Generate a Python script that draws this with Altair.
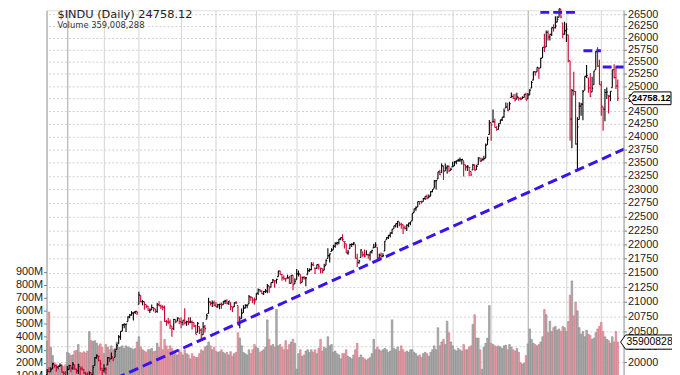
import altair as alt
import pandas as pd

# ---------------- data ----------------
holidays = ["2016-12-26", "2017-01-02", "2017-01-16", "2017-02-20", "2017-04-14",
            "2017-05-29", "2017-07-04", "2017-09-04", "2017-11-23", "2017-12-25",
            "2018-01-01", "2018-01-15", "2018-02-19"]
first_day, last_day = "2016-12-15", "2018-03-14"
prior_close = 19792.53

close = [
    19852, 19843, 19883, 19975, 19942, 19918, 19934, 19946, 19833, 19819, 19763,
    19882, 19943, 19900, 19964, 19887, 19855, 19954, 19892, 19886, 19826, 19804, 19732, 19827, 19799, 19913, 20069, 20101, 20094, 19971, 19864,
    19890, 19884, 20071, 20052, 20090, 20054, 20172, 20269, 20412, 20504, 20611, 20619, 20624, 20743, 20775, 20810, 20821, 20837, 20812,
    21115, 21002, 21005, 20954, 20924, 20855, 20858, 20902, 20881, 20837, 20950, 20934, 20914, 20905, 20668, 20661, 20656, 20596, 20550, 20701, 20659, 20728, 20663,
    20650, 20689, 20648, 20662, 20656, 20658, 20651, 20591, 20453, 20636, 20523, 20404, 20578, 20548, 20763, 20996, 20975, 20981, 20941,
    20913, 20949, 20957, 20951, 21007, 21013, 20975, 21012, 20919, 20897, 20982, 20980, 20607, 20663, 20805, 20895, 20938, 20938, 21083, 21080, 21029, 21009,
    21144, 21206, 21184, 21136, 21174, 21182, 21272, 21236, 21328, 21374, 21360, 21384, 21529, 21468, 21411, 21397, 21395, 21409, 21311, 21454, 21287, 21350,
    21479, 21479, 21320, 21414, 21409, 21409, 21532, 21553, 21638, 21630, 21575, 21641, 21611, 21580, 21513, 21613, 21711, 21797, 21830, 21891,
    21964, 22016, 22026, 22092, 22118, 22085, 22049, 21844, 21858, 21993, 21998, 22025, 21750, 21675, 21703, 21899, 21812, 21783, 21814, 21808, 21865, 21892, 21948,
    21988, 21753, 21807, 21785, 21798, 22057, 22118, 22158, 22203, 22268, 22331, 22370, 22412, 22359, 22349, 22296, 22284, 22340, 22381, 22405,
    22557, 22641, 22661, 22775, 22773, 22761, 22831, 22872, 22841, 22871, 22957, 22997, 23158, 23163, 23329, 23274, 23441, 23330, 23401, 23434, 23349, 23377,
    23435, 23517, 23539, 23549, 23557, 23564, 23462, 23422, 23440, 23409, 23272, 23458, 23358, 23431, 23591, 23526, 23558, 23580, 23836, 23940, 24272,
    24231, 24290, 24180, 24140, 24211, 24329, 24386, 24504, 24585, 24509, 24651, 24792, 24754, 24726, 24782, 24754, 24746, 24774, 24838, 24719,
    24824, 24922, 25075, 25295, 25283, 25385, 25369, 25574, 25803, 25792, 26116, 26017, 26072, 26214, 26211, 26252, 26392, 26617, 26439, 26077, 26149,
    26186, 25521, 24346, 24913, 24893, 23860, 24191, 24601, 24640, 24893, 25200, 25219, 24965, 24798, 24963, 25310, 25710, 25410, 25029,
    24608, 24538, 24875, 24884, 24801, 24896, 25336, 25179, 25007, 24758.12,
]
high = [
    19888, 19917, 19917, 19987, 19960, 19949, 19934, 19980, 19964, 19853, 19853,
    19938, 19956, 19943, 19999, 19957, 19890, 19974, 19929, 19929, 19885, 19843, 19834, 19850, 19833, 19950, 20082, 20126, 20096, 20028, 19900,
    19966, 19914, 20081, 20082, 20155, 20069, 20207, 20298, 20441, 20504, 20620, 20639, 20624, 20757, 20793, 20840, 20821, 20844, 20839,
    21169, 21112, 21033, 21002, 20953, 20930, 20891, 20953, 20911, 20880, 20977, 21008, 20954, 20941, 20938, 20694, 20727, 20702, 20588, 20714, 20701, 20735, 20722,
    20734, 20689, 20888, 20681, 20734, 20739, 20684, 20651, 20611, 20658, 20584, 20553, 20658, 20607, 20795, 21070, 21006, 21022, 21021,
    20994, 20966, 20967, 20988, 21007, 21034, 21043, 21012, 20989, 20915, 20992, 21012, 20937, 20754, 20886, 20941, 20956, 20959, 21113, 21090, 21073, 21071,
    21144, 21225, 21213, 21190, 21183, 21218, 21305, 21271, 21329, 21391, 21362, 21394, 21535, 21534, 21475, 21453, 21405, 21465, 21445, 21459, 21454, 21404,
    21562, 21537, 21471, 21434, 21441, 21420, 21581, 21574, 21682, 21682, 21580, 21641, 21654, 21580, 21573, 21654, 21733, 21929, 21836, 21929,
    21990, 22036, 22044, 22093, 22119, 22179, 22049, 22008, 21900, 22009, 22020, 22037, 22000, 21831, 21724, 21910, 21865, 21906, 21895, 21830, 21866, 21902, 22011,
    22034, 21946, 21838, 21852, 21842, 22057, 22124, 22164, 22209, 22271, 22332, 22374, 22420, 22400, 22387, 22353, 22336, 22361, 22386, 22405,
    22557, 22641, 22685, 22776, 22774, 22788, 22839, 22872, 22905, 22905, 22965, 22998, 23168, 23163, 23329, 23368, 23485, 23443, 23483, 23452, 23449, 23406,
    23517, 23529, 23541, 23575, 23602, 23573, 23542, 23462, 23454, 23420, 23334, 23474, 23466, 23462, 23605, 23597, 23595, 23634, 23870, 24000, 24327,
    24272, 24534, 24350, 24208, 24263, 24330, 24387, 24552, 24672, 24668, 24690, 24876, 24838, 24850, 24871, 24784, 24778, 24800, 24841, 24871,
    24864, 24941, 25106, 25299, 25312, 25386, 25370, 25584, 25804, 26086, 26154, 26153, 26072, 26215, 26285, 26458, 26458, 26617, 26609, 26312, 26339,
    26306, 26062, 25520, 24946, 25294, 24903, 24382, 24681, 24668, 24924, 25200, 25432, 25174, 25267, 25191, 25317, 25723, 25800, 25544,
    25107, 24587, 24946, 24976, 24819, 24899, 25336, 25449, 25402, 25138,
]
low = [
    19745, 19833, 19842, 19890, 19909, 19844, 19883, 19912, 19832, 19775, 19719,
    19760, 19881, 19834, 19875, 19871, 19815, 19807, 19767, 19861, 19805, 19760, 19706, 19731, 19732, 19790, 19945, 20054, 20010, 19863, 19751,
    19832, 19799, 19954, 20000, 20049, 20011, 20076, 20205, 20299, 20364, 20503, 20555, 20493, 20665, 20722, 20765, 20682, 20793, 20775,
    20957, 20990, 20940, 20866, 20891, 20846, 20811, 20860, 20835, 20810, 20813, 20925, 20879, 20858, 20663, 20598, 20621, 20541, 20413, 20527, 20637, 20670, 20627,
    20553, 20600, 20618, 20596, 20608, 20636, 20535, 20574, 20453, 20486, 20458, 20379, 20446, 20482, 20704, 20801, 20938, 20913, 20920,
    20910, 20900, 20873, 20882, 20951, 20962, 20955, 20944, 20854, 20826, 20913, 20960, 20606, 20553, 20715, 20814, 20886, 20888, 20964, 21019, 20976, 20951,
    21032, 21115, 21163, 21133, 21115, 21148, 21144, 21155, 21249, 21322, 21239, 21310, 21431, 21466, 21359, 21376, 21344, 21405, 21310, 21314, 21197, 21305,
    21376, 21435, 21306, 21332, 21377, 21264, 21466, 21515, 21542, 21612, 21478, 21565, 21555, 21486, 21488, 21544, 21629, 21749, 21676, 21872,
    21903, 21936, 21983, 22002, 22071, 22056, 21925, 21844, 21814, 21922, 21952, 21981, 21750, 21600, 21656, 21765, 21777, 21767, 21809, 21744, 21711, 21838, 21936,
    21947, 21704, 21755, 21740, 21769, 21879, 22079, 22093, 22120, 22182, 22278, 22301, 22294, 22321, 22279, 22183, 22266, 22237, 22305, 22342,
    22423, 22574, 22603, 22674, 22714, 22739, 22773, 22804, 22810, 22841, 22870, 22946, 23019, 22998, 23195, 23267, 23309, 23176, 23344, 23292, 23318, 23352,
    23422, 23438, 23470, 23517, 23514, 23466, 23241, 23351, 23344, 23250, 23242, 23361, 23353, 23366, 23461, 23519, 23536, 23545, 23587, 23843, 24042,
    23922, 24289, 24179, 24114, 24142, 24255, 24307, 24373, 24565, 24505, 24529, 24773, 24751, 24693, 24741, 24709, 24721, 24745, 24774, 24719,
    24742, 24825, 24963, 25124, 25211, 25294, 25153, 25373, 25579, 25704, 25807, 25942, 25942, 26037, 26135, 26196, 26331, 26435, 26416, 25991, 26063,
    25911, 25490, 23924, 23778, 24816, 23849, 23360, 24336, 24409, 24323, 24920, 25165, 24870, 24780, 24885, 25030, 25337, 25400, 25028,
    24411, 24118, 24302, 24744, 24454, 24697, 24970, 25155, 24943, 24706,
]
volume_m = [
    365, 590, 320, 255, 200, 190, 150, 155, 175, 170, 185,
    280, 270, 255, 260, 290, 295, 340, 280, 275, 285, 275, 290, 440, 370, 365, 370, 350, 330, 345, 320,
    270, 340, 320, 300, 330, 300, 310, 360, 320, 320, 330, 310, 330, 320, 315, 310, 300, 310, 360,
    400, 320, 300, 290, 280, 300, 300, 310, 285, 290, 350, 320, 520, 300, 380, 330, 300, 330, 310, 290, 270, 260, 300,
    280, 260, 300, 270, 260, 230, 270, 250, 240, 240, 270, 300, 290, 320, 330, 360, 330, 300, 320,
    290, 280, 285, 300, 280, 270, 280, 260, 285, 250, 270, 280, 430, 390, 330, 280, 270, 260, 300, 270, 300, 340,
    320, 310, 280, 290, 300, 320, 530, 380, 330, 340, 320, 610, 330, 340, 320, 300, 370, 300, 340, 360, 380, 350,
    150, 270, 300, 250, 260, 290, 300, 280, 300, 280, 300, 270, 310, 380, 290, 320, 310, 400, 330, 340,
    280, 290, 270, 260, 230, 270, 270, 300, 250, 240, 230, 260, 300, 350, 240, 260, 240, 230, 220, 230, 240, 270, 380,
    300, 320, 300, 290, 300, 310, 300, 280, 290, 530, 310, 300, 320, 290, 330, 300, 280, 290, 280, 300,
    300, 280, 270, 250, 260, 240, 270, 280, 270, 250, 280, 300, 330, 300, 470, 330, 360, 380, 340, 520, 430, 360,
    330, 300, 290, 310, 300, 290, 340, 300, 300, 320, 330, 495, 570, 390, 390, 300, 150, 320, 350, 390, 640,
    350, 340, 330, 320, 330, 320, 310, 330, 335, 300, 340, 320, 300, 290, 310, 280, 200, 190, 195, 255,
    345, 460, 380, 350, 340, 330, 340, 360, 400, 610, 570, 430, 520, 440, 470, 480, 450, 460, 440, 480, 470,
    440, 517, 720, 830, 560, 667, 600, 470, 420, 440, 400, 450, 420, 410, 380, 390, 430, 460, 480,
    510, 440, 400, 380, 370, 350, 400, 360, 440, 359.008288,
]
last_volume = 359008288

price_ticks = [20000, 20250, 20500, 20750, 21000, 21250, 21500, 21750, 22000, 22250,
               22500, 22750, 23000, 23250, 23500, 23750, 24000, 24250, 24500, 24750,
               25000, 25250, 25500, 25750, 26000, 26250, 26500]
volume_ticks_m = [100, 200, 300, 400, 500, 600, 700, 800, 900]

# annotation lines (bar index, price)
resist_from = [268.8, 292.3, 302.8]
resist_to = [288.2, 301.8, 315.0]
resist_price = [26540, 25727, 25392]
trend_from, trend_from_price = 30, 19639
trend_to, trend_to_price = 315, 23770

# ---------------- table ----------------
dates = [d for d in pd.bdate_range(first_day, last_day) if d.strftime("%Y-%m-%d") not in holidays]
n = len(close)
dates = dates[:n]
prev = [prior_close] + close[:-1]
df = pd.DataFrame({
    "i": list(range(n)),
    "close": close, "high": high, "low": low,
    "vol": [v * 1e6 for v in volume_m],
})
df["open"] = [min(max(p, l), h) for p, l, h in zip(prev, low, high)]
df["dir"] = ["up" if c >= p else "down" for c, p in zip(close, prev)]
df["x_open"] = df["i"] - 0.62
df["x_close"] = df["i"] + 0.62
df["x_left"] = df["i"] - 0.43
df["x_right"] = df["i"] + 0.43

month_starts = [k for k in range(1, len(dates)) if dates[k].month != dates[k - 1].month]
jan_starts = [k for k in month_starts if dates[k].month == 1]

# ---------------- scales / axes ----------------
W, H = 584, 383
x_scale = alt.Scale(domain=[-0.32, 314.16], nice=False, zero=False)
jan_test = " || ".join(f"datum.value == {k}" for k in jan_starts)
x_axis = alt.Axis(values=month_starts, grid=True, labels=False, ticks=False, domain=False,
                  title=None,
                  gridColor={"condition": {"test": jan_test, "value": "#a6a6a6"}, "value": "#d4d4d4"})

price_scale = alt.Scale(type="log", domain=[19573, 26585], nice=False, zero=False)
price_axis = alt.Axis(orient="right", values=price_ticks, format="d", grid=True,
                      gridColor="#cfcfcf", gridDash=[2, 2], tickSize=3, tickColor="#777",
                      labelFont="Liberation Sans", labelFontSize=11, labelColor="#222",
                      labelPadding=1, domainColor="#9a9a9a", title=None)
vol_scale = alt.Scale(domain=[0, 2913e6], nice=False, zero=True)
vol_axis = alt.Axis(orient="left", values=[v * 1e6 for v in volume_ticks_m],
                    labelExpr="format(datum.value / 1000000, 'd') + 'M'", grid=False,
                    tickSize=3, tickColor="#777", labelFont="Liberation Sans", labelFontSize=11,
                    labelColor="#222", labelPadding=1, domainColor="#9a9a9a", title=None)

up_test = "datum.dir == 'up'"
X = lambda f: alt.X(f, scale=x_scale, axis=x_axis)
Yp = lambda f: alt.Y(f, scale=price_scale, axis=price_axis)

base = alt.Chart(df)

vol_bars = base.mark_bar(strokeWidth=0.6).encode(
    x=X("x_left:Q"), x2="x_right:Q",
    y=alt.Y("vol:Q", scale=vol_scale, axis=vol_axis), y2=alt.datum(0),
    fill=alt.condition(up_test, alt.value("#b3b3b3"), alt.value("#e8a5ad")),
    stroke=alt.condition(up_test, alt.value("#858585"), alt.value("#cd7080")),
)

tag_v = pd.DataFrame({"v": [last_volume], "t": [str(last_volume)]})
vol_tag = alt.Chart(tag_v).mark_point(
    shape="M -1 0 L -0.833 -0.24 L 1 -0.24 L 1 0.24 L -0.833 0.24 Z",
    size=3600, filled=True, fill="white", stroke="black", strokeWidth=1, opacity=1,
).encode(x=alt.value(611), y=alt.Y("v:Q", scale=vol_scale, axis=vol_axis))
vol_tag_text = alt.Chart(tag_v).mark_text(
    align="left", baseline="middle", font="Liberation Sans", fontSize=10.5, color="black",
).encode(x=alt.value(587), y=alt.Y("v:Q", scale=vol_scale, axis=vol_axis), text="t:N")

bar_color = alt.condition(up_test, alt.value("#000000"), alt.value("#cc0033"))
hl = base.mark_rule(strokeWidth=1.1).encode(x=X("i:Q"), y=Yp("low:Q"), y2="high:Q", color=bar_color)
op = base.mark_rule(strokeWidth=1.1).encode(x=X("x_open:Q"), x2="i:Q", y=Yp("open:Q"), color=bar_color)
cl = base.mark_rule(strokeWidth=1.1).encode(x=X("i:Q"), x2="x_close:Q", y=Yp("close:Q"), color=bar_color)

res_df = pd.DataFrame({"a": resist_from, "b": resist_to, "p": resist_price})
resist = alt.Chart(res_df).mark_rule(strokeWidth=3, strokeDash=[9, 4], color="#3a12f2", clip=True).encode(
    x=X("a:Q"), x2="b:Q", y=Yp("p:Q"))
tr_df = pd.DataFrame({"a": [trend_from], "b": [trend_to], "p": [trend_from_price], "q": [trend_to_price]})
trend = alt.Chart(tr_df).mark_rule(strokeWidth=3, strokeDash=[10, 5], color="#3a12f2", clip=True).encode(
    x=X("a:Q"), x2="b:Q", y=Yp("p:Q"), y2="q:Q")

tag_p = pd.DataFrame({"p": [close[-1]], "t": [f"{close[-1]:.2f}"]})
price_tag = alt.Chart(tag_p).mark_point(
    shape="M -1 0 L -0.767 -0.3 L 1 -0.3 L 1 0.3 L -0.767 0.3 Z",
    size=1849, filled=True, fill="white", stroke="black", strokeWidth=1, opacity=1,
).encode(x=alt.value(610.5), y=Yp("p:Q"))
price_tag_text = alt.Chart(tag_p).mark_text(
    align="center", baseline="middle", font="Liberation Sans",
    fontWeight="bold", fontSize=9.5, color="black",
).encode(x=alt.value(612), y=Yp("p:Q"), text="t:N")

head = pd.DataFrame({
    "t": [f"$INDU (Daily) {close[-1]:.2f}", f"Volume {last_volume:,}"],
    "row": [0, 1],
})
title1 = alt.Chart(head[head.row == 0]).mark_text(
    align="left", baseline="top", font="DejaVu Sans", fontSize=11.5, color="#222",
).encode(x=alt.value(11), y=alt.value(-1), text="t:N")
title2 = alt.Chart(head[head.row == 1]).mark_text(
    align="left", baseline="top", font="DejaVu Sans", fontSize=8.5, color="#333",
).encode(x=alt.value(11), y=alt.value(11), text="t:N")

vol_group = alt.layer(vol_bars, vol_tag, vol_tag_text)
price_group = alt.layer(hl, op, cl, resist, trend, price_tag, price_tag_text, title1, title2)

chart = alt.layer(vol_group, price_group).resolve_scale(y="independent").properties(
    width=W, height=H,
    autosize=alt.AutoSizeParams(type="none"),
    padding={"left": 39, "top": 0, "right": 49, "bottom": 0},
).configure_view(stroke=None).configure(background="white")

chart.save("out.html", embed_options={"renderer": "svg", "actions": False})
